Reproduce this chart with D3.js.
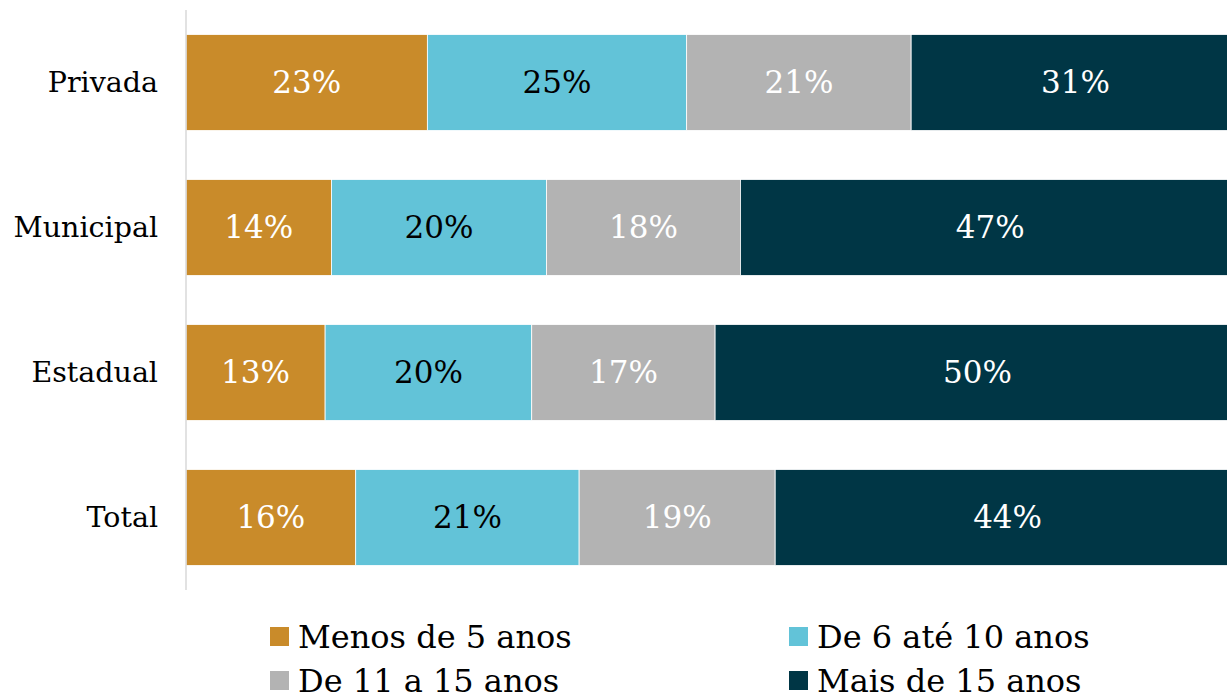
<!DOCTYPE html>
<html>
<head>
<meta charset="utf-8">
<script src="https://cdn.jsdelivr.net/npm/d3@7"></script>
<style>
  body { margin: 0; background: #fff; }
  svg text { font-family: "DejaVu Serif", "Liberation Serif", serif; }
</style>
</head>
<body>
<div id="chart"></div>
<script>
const width = 1227
const height = 700

const categories = ["Privada", "Municipal", "Estadual", "Total"]
const seriesNames = ["Menos de 5 anos", "De 6 até 10 anos", "De 11 a 15 anos", "Mais de 15 anos"]
const menos5 = [22.9, 13.8, 13.2, 16.1]
const de6a10 = [24.6, 20.4, 19.6, 21.2]
const de11a15 = [21.3, 18.4, 17.4, 18.6]
const mais15 = [31.2, 47.4, 49.8, 44.1]
const colors = ["#C98B2A", "#62C3D8", "#B3B3B3", "#003645"]
const labelColors = ["#fff", "#000", "#fff", "#fff"]

const rows = categories.map((c, i) => ({
    cat: c,
    values: [menos5[i], de6a10[i], de11a15[i], mais15[i]]
}))

let svg = d3.select("#chart")
    .append("svg")
    .attr("width", width)
    .attr("height", height)

const x = d3.scaleLinear()
    .domain([0, 100])
    .range([186, 1240])

const y = d3.scaleBand()
    .domain(categories)
    .range([10, 590])
    .paddingInner(0.338)
    .paddingOuter(0.169)

// stacked segments
rows.forEach(r => {
    let acc = 0
    const segs = r.values.map((v, k) => {
        const s = { cat: r.cat, k: k, v: v, x0: acc, x1: acc + v }
        acc += v
        return s
    })
    const g = svg.append("g")
    g.selectAll("rect")
        .data(segs)
        .join("rect")
        .attr("x", d => x(d.x0))
        .attr("y", y(r.cat))
        .attr("width", d => x(d.x1) - x(d.x0))
        .attr("height", y.bandwidth())
        .style("fill", d => colors[d.k])
        .style("stroke", "#fff")
        .style("stroke-width", 0.8)
    g.selectAll("text")
        .data(segs)
        .join("text")
        .attr("x", d => (x(d.x0) + x(d.x1)) / 2)
        .attr("y", y(r.cat) + y.bandwidth() / 2)
        .attr("dy", "0.35em")
        .attr("text-anchor", "middle")
        .style("font-size", "31px")
        .style("fill", d => labelColors[d.k])
        .text(d => Math.round(d.v) + "%")
})

// category axis
const yAxis = svg.append("g")
    .attr("transform", "translate(186,0)")
    .call(d3.axisLeft(y).tickSize(0).tickPadding(28))
yAxis.select(".domain")
    .attr("d", "M0,10V590")
    .style("stroke", "#d9d9d9")
    .style("stroke-width", 1.5)
yAxis.selectAll("text")
    .style("font-size", "28.5px")
    .style("fill", "#000")
    .attr("dy", "0.35em")

// legend
const legendX = [270, 789]
const legendY = [637, 681]
const legend = svg.append("g")
seriesNames.forEach((name, k) => {
    const lx = legendX[k % 2]
    const ly = legendY[Math.floor(k / 2)]
    legend.append("rect")
        .attr("x", lx)
        .attr("y", ly - 10)
        .attr("width", 19)
        .attr("height", 19)
        .style("fill", colors[k])
    legend.append("text")
        .attr("x", lx + 28)
        .attr("y", ly)
        .attr("dy", "0.35em")
        .style("font-size", "32px")
        .style("fill", "#000")
        .text(name)
})
</script>
</body>
</html>
